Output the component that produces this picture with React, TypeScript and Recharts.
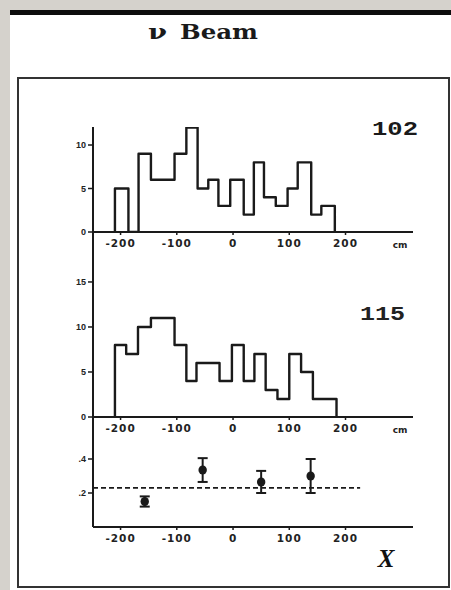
import React from 'react';
import { ComposedChart, Line, XAxis, YAxis, Scatter, ErrorBar } from 'recharts';

// x axis (cm)
const xTicks = [-200, -100, 0, 100, 200];
const xDomain: [number, number] = [-249, 320];

// histogram "102": bin edges (cm) and counts
const edges102 = [-210, -186, -168, -146, -104, -83, -63, -44, -26, -5, 19, 37, 55, 76, 97, 115, 139, 157, 181];
const counts102 = [5, 0, 9, 6, 9, 12, 5, 6, 3, 6, 2, 8, 4, 3, 5, 8, 2, 3];
const yTicks102 = [0, 5, 10];

// histogram "115": bin edges (cm) and counts
const edges115 = [-210, -190, -169, -146, -104, -83, -65, -24, -2, 19, 38, 58, 79, 100, 121, 142, 184];
const counts115 = [8, 7, 10, 11, 8, 4, 6, 4, 8, 4, 7, 3, 2, 7, 5, 2];
const yTicks115 = [0, 5, 10, 15];

// asymmetry points
const asymX = [-157, -54, 50, 138];
const asymY = [0.15, 0.335, 0.265, 0.3];
const asymErr = [0.03, 0.07, 0.065, 0.1];
const asymMean = 0.23;
const asymMeanRange = [-249, 226];
const yTicksAsym = [0.2, 0.4];

const stepPoints = (edges: number[], counts: number[]) => {
  const pts: { x: number; y: number }[] = [{ x: edges[0], y: 0 }];
  counts.forEach((c, i) => pts.push({ x: edges[i], y: c }));
  pts.push({ x: edges[edges.length - 1], y: counts[counts.length - 1] });
  pts.push({ x: edges[edges.length - 1], y: 0 });
  return pts;
};

const hist102 = stepPoints(edges102, counts102);
const hist115 = stepPoints(edges115, counts115);
const asymData = asymX.map((x, i) => ({ x, y: asymY[i], err: asymErr[i] }));
const meanData = asymMeanRange.map((x) => ({ x, y: asymMean }));

const INK = '#1a1a1a';
const xTickStyle = { fontSize: 10.5, fontWeight: 700, fontFamily: 'DejaVu Sans', letterSpacing: 1, fill: '#222' };
const yTickStyle = { fontSize: 9, fontWeight: 700, fontFamily: 'Liberation Sans', fill: '#222' };
const margin = { top: 0, right: 38, bottom: 0, left: 53 };

const CmLabel = (props: any) => {
  const vb = props.viewBox || {};
  return (
    <text x={(vb.x || 0) + (vb.width || 0) - 13} y={(vb.y || 0) + 16} textAnchor="middle"
      style={{ fontSize: 9, fontWeight: 700, fontFamily: 'DejaVu Sans', fill: '#222' }}>cm</text>
  );
};

const XLabel = (props: any) => {
  const vb = props.viewBox || {};
  return (
    <text x={(vb.x || 0) + (vb.width || 0) - 27} y={(vb.y || 0) + 40} textAnchor="middle"
      style={{ fontSize: 25, fontWeight: 700, fontStyle: 'italic', fontFamily: 'Liberation Serif', fill: '#111' }}>X</text>
  );
};

const Blob = (props: any) => {
  const { cx, cy } = props;
  return <ellipse cx={cx} cy={cy} rx={4.2} ry={4.5} fill={INK} />;
};

const axisCommon = {
  stroke: INK,
  axisLine: { stroke: INK, strokeWidth: 2 },
  tickLine: { stroke: INK, strokeWidth: 1.5 },
};

function HistPanel({ data, yMax, ticks, top, height }: any) {
  return (
    <div style={{ position: 'absolute', left: 0, top, width: 451, height }}>
      <ComposedChart width={451} height={height} data={data} margin={margin}>
        <XAxis type="number" dataKey="x" domain={xDomain} ticks={xTicks} allowDataOverflow
          height={20} tickSize={3} tickMargin={5} tick={xTickStyle} {...axisCommon}
          label={{ content: CmLabel }} />
        <YAxis type="number" domain={[0, yMax]} ticks={ticks} width={40} tickSize={5} tickMargin={2}
          allowDataOverflow tick={yTickStyle} {...axisCommon} />
        <Line type="stepAfter" dataKey="y" stroke={INK} strokeWidth={2.4} strokeLinejoin="round"
          dot={false} activeDot={false} isAnimationActive={false} />
      </ComposedChart>
    </div>
  );
}

export default function App() {
  return (
    <div style={{ position: 'absolute', left: 0, top: 0, width: 451, height: 590, background: '#fff', overflow: 'hidden' }}>
      <svg width={451} height={590} style={{ position: 'absolute', left: 0, top: 0 }}>
        <rect x={0} y={0} width={451} height={10} fill="#d5d2cc" />
        <rect x={0} y={0} width={10} height={590} fill="#d5d2cc" />
        <rect x={10} y={10} width={441} height={5} fill="#0d0d0d" />
        <rect x={18} y={78} width={431} height={509} fill="none" stroke="#333" strokeWidth={2} />
        <text x={148} y={39} textLength={19} lengthAdjust="spacingAndGlyphs"
          style={{ fontSize: 20, fontWeight: 700, fontFamily: 'DejaVu Serif', fill: '#1a1a1a' }}>ν</text>
        <text x={180} y={39} textLength={78} lengthAdjust="spacingAndGlyphs"
          style={{ fontSize: 20, fontWeight: 700, fontFamily: 'DejaVu Serif', fill: '#1a1a1a' }}>Beam</text>
        <text x={372} y={135} textLength={46} lengthAdjust="spacingAndGlyphs"
          style={{ fontSize: 21, fontWeight: 700, fontFamily: 'Liberation Mono', fill: '#1a1a1a' }}>102</text>
        <text x={360} y={320} textLength={45} lengthAdjust="spacingAndGlyphs"
          style={{ fontSize: 21, fontWeight: 700, fontFamily: 'Liberation Mono', fill: '#222' }}>115</text>
      </svg>

      <HistPanel data={hist102} yMax={12.07} ticks={yTicks102} top={127} height={125} />
      <HistPanel data={hist115} yMax={20.55} ticks={yTicks115} top={232} height={205} />

      <div style={{ position: 'absolute', left: 0, top: 417, width: 451, height: 160 }}>
        <ComposedChart width={451} height={160} margin={margin}>
          <XAxis type="number" dataKey="x" domain={xDomain} ticks={xTicks} allowDataOverflow
            height={50} tickSize={3} tickMargin={5} tick={xTickStyle} {...axisCommon}
            label={{ content: XLabel }} />
          <YAxis type="number" dataKey="y" domain={[0, 0.647]} ticks={yTicksAsym} width={40} tickSize={5} tickMargin={2}
            allowDataOverflow tick={yTickStyle} tickFormatter={(v: number) => String(v).replace(/^0/, '')} {...axisCommon} />
          <Line data={meanData} type="linear" dataKey="y" stroke={INK} strokeWidth={1.6} strokeDasharray="5 3"
            dot={false} activeDot={false} isAnimationActive={false} />
          <Scatter data={asymData} dataKey="y" shape={<Blob />} isAnimationActive={false}>
            <ErrorBar dataKey="err" direction="y" width={5} stroke={INK} strokeWidth={2} />
          </Scatter>
        </ComposedChart>
      </div>
    </div>
  );
}
